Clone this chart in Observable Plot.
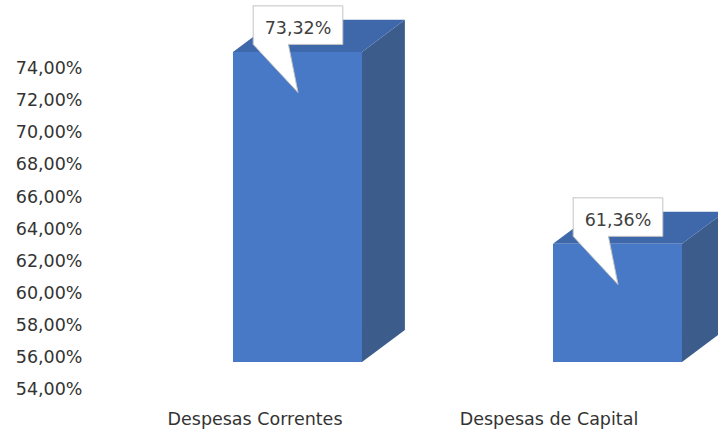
<!DOCTYPE html>
<html><head><meta charset="utf-8">
<script src="https://cdn.jsdelivr.net/npm/d3@7"></script>
<script src="https://cdn.jsdelivr.net/npm/@observablehq/plot@0.6"></script>
<style>body{margin:0;background:#fff;} svg{display:block;}</style>
</head><body><div id="chart"></div>
<script>
const categories = ["Despesas Correntes", "Despesas de Capital"];
const values = [73.32, 61.36];
const valueLabels = ["73,32%", "61,36%"];
const yTicks = [54, 56, 58, 60, 62, 64, 66, 68, 70, 72, 74];
const yTickLabels = ["54,00%", "56,00%", "58,00%", "60,00%", "62,00%", "64,00%", "66,00%", "68,00%", "70,00%", "72,00%", "74,00%"];

// 3D styling constants (in scale units / pixels)
const base = 54;
const half = 0.2016;
const depthX = 0.134, depthY = 2.0;
const labelShift = [-43, -69]; // perspective shift of category labels (px)

const bars = categories.map((c, i) => ({c, i, v: values[i], label: valueLabels[i]}));
const side = bars.flatMap(b => [
  {c: b.c, x: b.i + half, y1: base, y2: b.v},
  {c: b.c, x: b.i + half + depthX, y1: base + depthY, y2: b.v + depthY}
]);
const topFace = bars.flatMap(b => [
  {c: b.c, y: b.v, x1: b.i - half, x2: b.i + half},
  {c: b.c, y: b.v + depthY, x1: b.i - half + depthX, x2: b.i + half + depthX}
]);
const bw = 0.14, bBot = 0.5, bTop = 2.9, tip = 2.5;
const callout = bars.flatMap(b => [
  [b.i - bw, b.v + bTop], [b.i + bw, b.v + bTop], [b.i + bw, b.v + bBot],
  [b.i - 0.03, b.v + bBot], [b.i, b.v - tip], [b.i - bw, b.v + bBot], [b.i - bw, b.v + bTop]
].map(([x, y]) => ({c: b.c, x, y})));
const ticks = yTicks.map((t, k) => ({t, label: yTickLabels[k]}));

const font = "DejaVu Sans";
const chart = Plot.plot({
  width: 718, height: 432,
  marginLeft: 0, marginRight: 0, marginTop: 0, marginBottom: 0,
  style: {fontFamily: font, background: "#fff"},
  x: {domain: [0, 1], range: [297.5, 617.5], axis: null},
  y: {domain: [54, 74], range: [362, 41], axis: null},
  marks: [
    Plot.areaY(side, {x: "x", y1: "y1", y2: "y2", z: "c", fill: "#3c5d8c"}),
    Plot.areaX(topFace, {y: "y", x1: "x1", x2: "x2", z: "c", fill: "#3f68aa"}),
    Plot.rect(bars, {x1: d => d.i - half, x2: d => d.i + half, y1: base, y2: "v", fill: "#4879c6"}),
    Plot.line(callout, {x: "x", y: "y", z: "c", fill: "white", stroke: "#c4c4c4", strokeWidth: 1, curve: "linear"}),
    Plot.text(bars, {x: "i", y: d => d.v + 1.5, text: "label", fontSize: 17.5, fill: "#404040"}),
    Plot.text(ticks, {y: "t", text: "label", frameAnchor: "left", textAnchor: "end", dx: 82, dy: 27, fontSize: 17.5, fill: "#333"}),
    ...bars.map((b, k) => Plot.text([b], {x: "i", y: base, text: "c", dx: labelShift[k], dy: 57, fontSize: 17.5, fill: "#333"}))
  ]
});
document.getElementById("chart").appendChild(chart);
</script>
</body></html>
